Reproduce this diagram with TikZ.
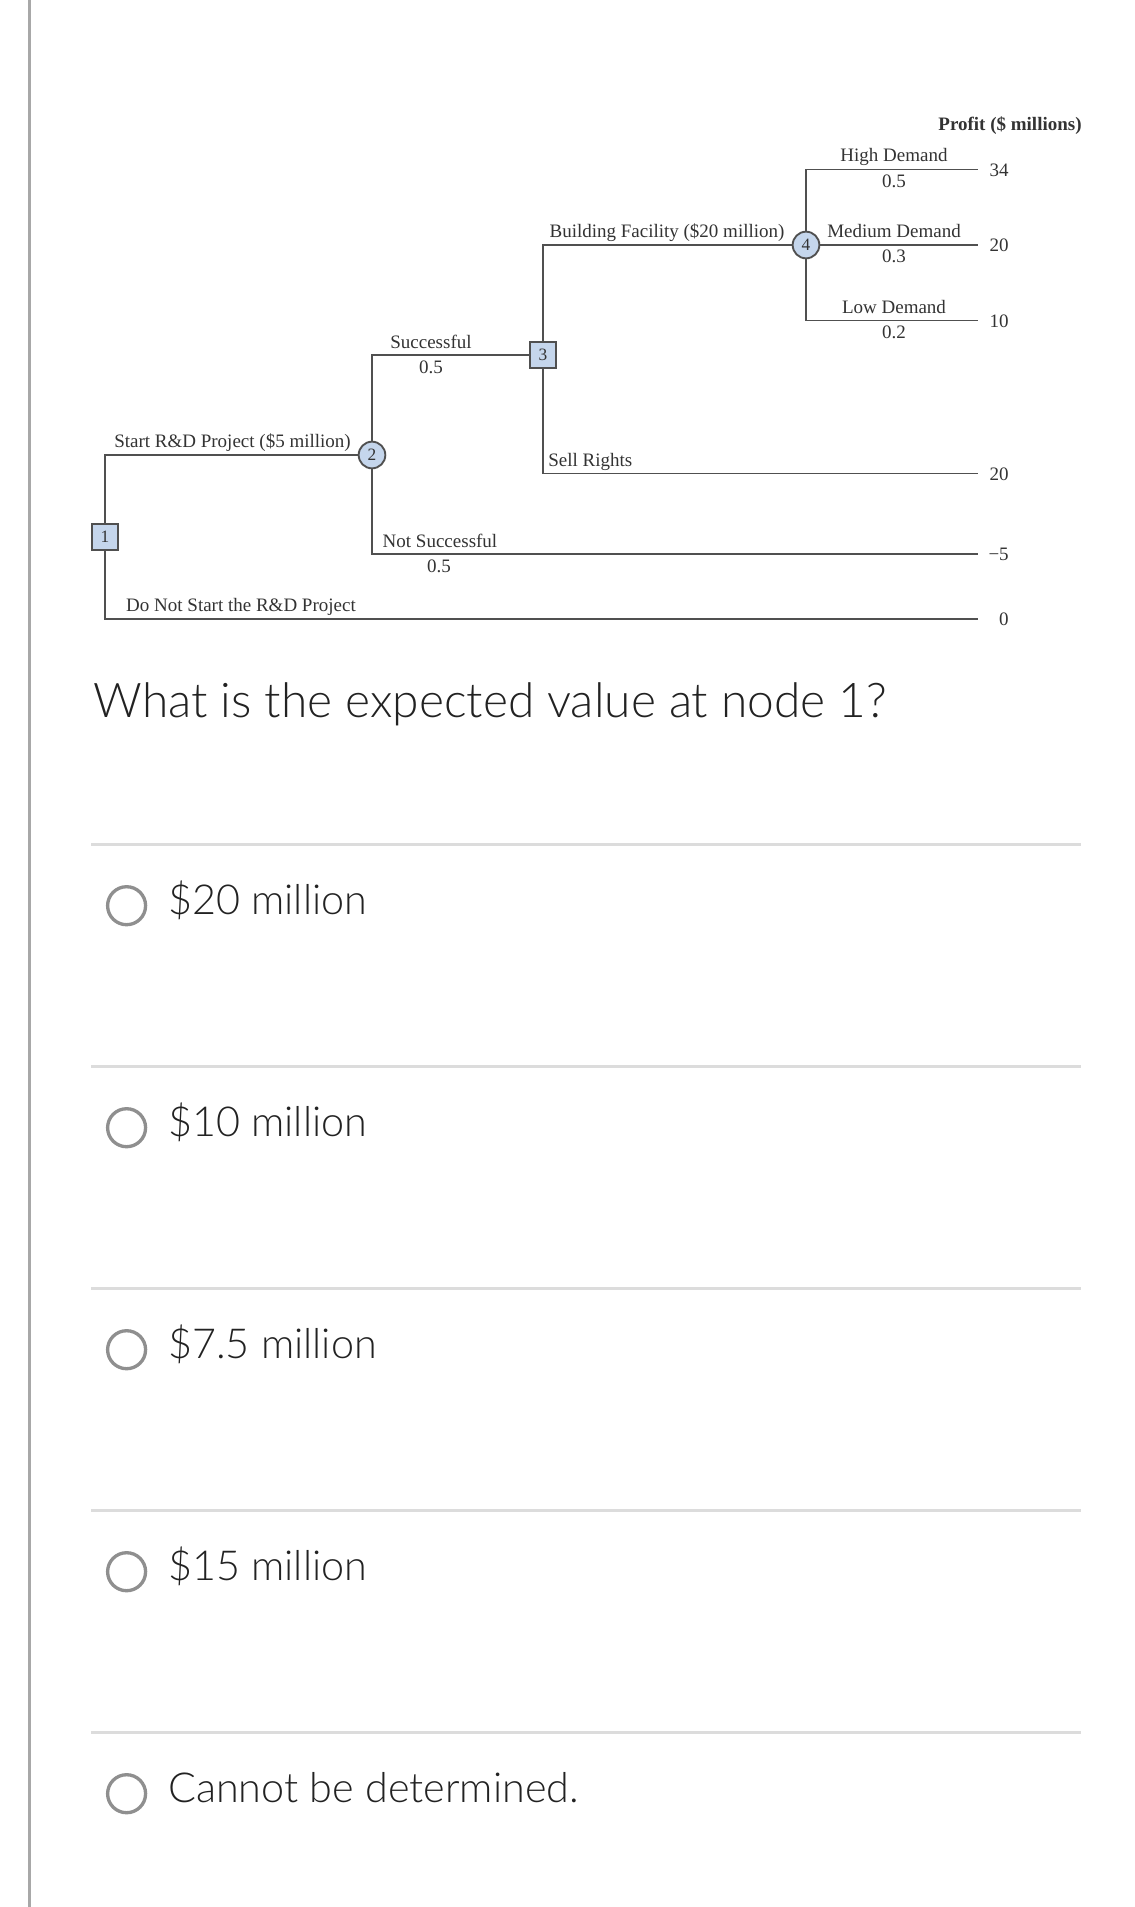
\documentclass[tikz,border=0pt]{standalone}
\usepackage{fontspec}
\setmainfont{Liberation Serif}
\newfontfamily\qfont{Lato Light}
\definecolor{treeline}{HTML}{505050}
\definecolor{treetext}{HTML}{333333}
\definecolor{nodeblue}{HTML}{C5D6EC}
\definecolor{rulegray}{HTML}{DCDCDC}
\definecolor{radiogray}{HTML}{8F8F8F}
\definecolor{bargray}{HTML}{A8A8A8}
\definecolor{qtext}{HTML}{222222}
\tikzset{
  branch/.style={draw=treeline, line width=1.4pt},
  decision/.style={draw=treeline, fill=nodeblue, line width=1.4pt, minimum size=20pt, inner sep=0pt, text=treetext, font=\fontsize{13}{13}\selectfont},
  chance/.style={decision, circle},
  lbl/.style={text=treetext, inner sep=0pt, anchor=base, font=\fontsize{14.25}{17}\selectfont},
  payoff/.style={lbl, anchor=base east},
  optrule/.style={draw=rulegray, line width=2pt},
  radio/.style={circle, draw=radiogray, line width=2.5pt, minimum size=28.5pt, inner sep=0pt},
  opttext/.style={anchor=base west, inner sep=0pt, text=qtext, font=\qfont\fontsize{31}{35}\selectfont},
}
\begin{document}
\begin{tikzpicture}[x=0.75pt, y=-0.75pt]
\useasboundingbox (0,0) rectangle (1135,1907);
%% page bar
\draw[bargray, line width=2pt] (29.3,0) -- (29.3,1907);
%% tree nodes
\node[decision] (n1) at (105,537) {1};
\node[chance] (n2) at (372,455) {2};
\node[decision] (n3) at (543,355) {3};
\node[chance] (n4) at (806,245) {4};
%% branch ends
\coordinate (eHigh) at (978,169.5);
\coordinate (eMed) at (978,245);
\coordinate (eLow) at (978,320.5);
\coordinate (eSell) at (978,473.5);
\coordinate (eFail) at (978,554);
\coordinate (eNo) at (978,619);
%% branches
\draw[branch] (n1) |- (n2);
\draw[branch] (n1) |- (eNo);
\draw[branch] (n2) |- (n3);
\draw[branch] (n2) |- (eFail);
\draw[branch] (n3) |- (n4);
\draw[branch] (n3) |- (eSell);
\draw[branch] (n4) |- (eHigh);
\draw[branch] (n4) -- (eMed);
\draw[branch] (n4) |- (eLow);
%% branch labels
\node[lbl] (tStart) at (232.5,447.5) {Start R\&D Project (\$5 million)};
\node[lbl] (tNo) at (241,611) {Do Not Start the R\&D Project};
\node[lbl] (tSucc) at (431,348) {Successful};
\node[lbl] (pSucc) at (431,373) {0.5};
\node[lbl] (tFail) at (440,547.5) {Not Successful};
\node[lbl] (pFail) at (439,572) {0.5};
\node[lbl] (tBuild) at (667,237.5) {Building Facility (\$20 million)};
\node[lbl, anchor=base west] (tSell) at (548,466.5) {Sell Rights};
\node[lbl] (tHigh) at (894,161.5) {High Demand};
\node[lbl] (pHigh) at (894,187) {0.5};
\node[lbl] (tMed) at (894,237.5) {Medium Demand};
\node[lbl] (pMed) at (894,262.5) {0.3};
\node[lbl] (tLow) at (894,313) {Low Demand};
\node[lbl] (pLow) at (894,338) {0.2};
%% payoffs
\node[lbl, font=\fontsize{14.25}{17}\selectfont\bfseries] (tProfit) at (1010,130.5) {Profit (\$ millions)};
\node[payoff] (v34) at (1009,176) {34};
\node[payoff] (v20a) at (1009,251.5) {20};
\node[payoff] (v10) at (1009,327) {10};
\node[payoff] (v20b) at (1009,480) {20};
\node[payoff] (vm5) at (1009,560.5) {−5};
\node[payoff] (v0) at (1009,625.5) {0};
%% question and answers
\node[anchor=base west, inner sep=0pt, text=qtext, font=\qfont\fontsize{35.9}{40}\selectfont] (question) at (93.3,717.3) {What is the expected value at node 1?};
\foreach \txt [count=\i from 0] in {\$20 million, \$10 million, \$7.5 million, \$15 million, Cannot be determined.} {
  \draw[optrule] (91,{844.3+222*\i}) -- (1081,{844.3+222*\i});
  \node[radio] (radio\i) at (126.6,{905.7+222*\i}) {};
  \node[opttext] (opt\i) at (168,{914.7+222*\i}) {\txt};
}
\end{tikzpicture}
\end{document}
